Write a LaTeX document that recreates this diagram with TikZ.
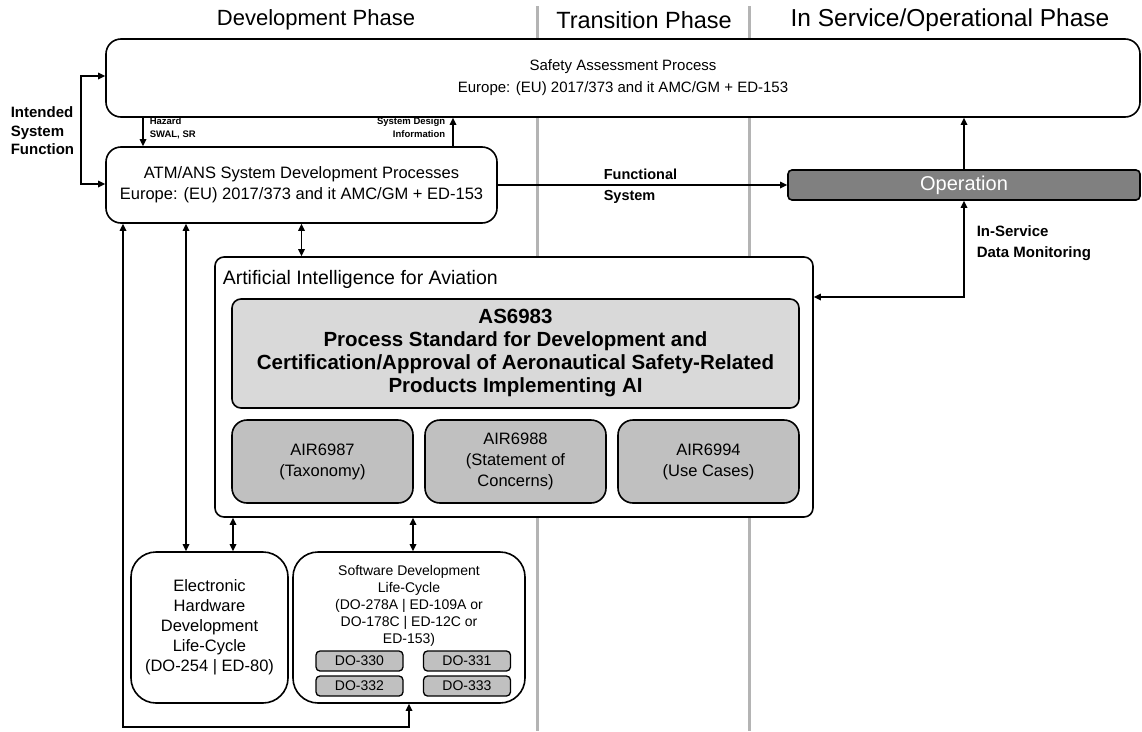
\documentclass[tikz,border=0pt]{standalone}
\usepackage{fontspec}
\setmainfont{Liberation Sans}
\usetikzlibrary{arrows.meta}
\definecolor{phaseline}{HTML}{B4B4B4}
\definecolor{asgray}{HTML}{D9D9D9}
\definecolor{airgray}{HTML}{C0C0C0}
\definecolor{opgray}{HTML}{808080}

\begin{document}
\begin{tikzpicture}
    [x=1pt, y=-1pt, line width=1.6pt, >={Triangle[length=7pt,width=6.5pt]},
     every node/.style={inner sep=0pt, align=center},
     box/.style={draw, fill=white, rounded corners=#1}, box/.default=14pt,
     airbox/.style={box=15pt, fill=airgray, minimum width=181pt, minimum height=83pt, font=\fontsize{16.5}{21}\selectfont},
     dobox/.style={draw, fill=airgray, rounded corners=4pt, line width=1.3pt, minimum width=87pt, minimum height=20pt, font=\fontsize{14}{16}\selectfont},
     phase/.style={font=\fontsize{#1}{28}\selectfont}, phase/.default=23,
     lbl/.style={font=\bfseries\fontsize{14.5}{20.5}\selectfont, align=left},
     tinylbl/.style={font=\bfseries\fontsize{9.5}{12.5}\selectfont}]
  \useasboundingbox (0,0) rectangle (1142,731);

  % phase separators
  \draw[phaseline, line width=3pt] (537,6) -- (537,731);
  \draw[phaseline, line width=3pt] (749,6) -- (749,731);

  \node[phase=22] (devph) at (316,20) {Development Phase};
  \node[phase=23.5] (trph) at (644,20) {Transition Phase};
  \node[phase=24.5] (opph) at (950,20) {In Service/Operational Phase};

  \node[box=15pt, minimum width=1034pt, minimum height=78pt, font=\fontsize{15}{22}\selectfont] (sap) at (623,78)
    {Safety Assessment Process\\Europe: (EU) 2017/373 and it AMC/GM + ED-153};
  \node[box=15pt, minimum width=391pt, minimum height=76pt, font=\fontsize{16.5}{21}\selectfont] (atm) at (301.5,185)
    {ATM/ANS System Development Processes\\Europe: (EU) 2017/373 and it AMC/GM + ED-153};
  \node[draw, fill=opgray, text=white, rounded corners=4pt, minimum width=352pt, minimum height=30pt, font=\fontsize{20}{22}\selectfont] (op) at (964,185) {Operation};

  % AI block
  \node[box=9pt, minimum width=598pt, minimum height=260pt] (ai) at (514,387) {};
  \node[anchor=west, font=\fontsize{19.5}{24}\selectfont] (aititle) at (222,279) {Artificial Intelligence for Aviation};
  \node[box=9pt, fill=asgray, minimum width=567pt, minimum height=109pt, font=\bfseries\fontsize{20.5}{23}\selectfont] (as) at (515.5,353.5)
    {AS6983\\Process Standard for Development and\\Certification/Approval of Aeronautical Safety-Related\\Products Implementing AI};
  \node[airbox] (air1) at (322.5,461.5) {AIR6987\\(Taxonomy)};
  \node[airbox] (air2) at (515.5,461.5) {AIR6988\\(Statement of\\Concerns)};
  \node[airbox] (air3) at (708.5,461.5) {AIR6994\\(Use Cases)};

  % life-cycles
  \node[box=25pt, minimum width=157pt, minimum height=151pt, font=\fontsize{16.5}{20}\selectfont] (eh) at (209.5,627.5)
    {Electronic\\Hardware\\Development\\Life-Cycle\\(DO-254 | ED-80)};
  \node[box=25pt, minimum width=232pt, minimum height=151pt] (sw) at (409,627.5) {};
  \node[font=\fontsize{14}{17}\selectfont] (swtxt) at (409,606)
    {Software Development\\Life-Cycle\\(DO-278A | ED-109A or\\DO-178C | ED-12C or\\ED-153)};
  \node[dobox] (do330) at (359.5,661) {DO-330};
  \node[dobox] (do331) at (467,661) {DO-331};
  \node[dobox] (do332) at (359.5,686) {DO-332};
  \node[dobox] (do333) at (467,686) {DO-333};

  % labels
  \node[lbl, anchor=west, font=\bfseries\fontsize{15}{18.5}\selectfont] (isflbl) at (10,131) {Intended\\System\\Function};
  \node[tinylbl, anchor=north west, align=left] (hazlbl) at (149,117) {Hazard\\SWAL, SR};
  \node[tinylbl, anchor=north east, align=right] (sdlbl) at (446,117) {System Design\\Information};
  \node[lbl, anchor=west] (fslbl) at (603,186) {Functional\\System};
  \node[lbl, anchor=west, font=\bfseries\fontsize{15}{21}\selectfont] (ismlbl) at (976,243) {In-Service\\Data Monitoring};

  \coordinate (isfA) at (81,76);
  \coordinate (isfB) at (81,184);
  \coordinate (xhaz) at (143,0);
  \coordinate (xsd) at (453,0);
  \coordinate (xatmeh) at (186,0);
  \coordinate (xaieh) at (233,0);
  \coordinate (xaisw) at (413,0);
  \coordinate (loopc) at (123,727);
  \coordinate (ism) at (964,297);

  \draw[<->] (isfA -| sap.west) -- (isfA) -- (isfB) -- (isfB -| atm.west);
  \draw[->] (xhaz |- sap.south) -- (xhaz |- atm.north);
  \draw[->] (xsd |- atm.north) -- (xsd |- sap.south);
  \draw[->] (atm.east) -- (op.west);
  \draw[->] (op.north) -- (op.north |- sap.south);
  \draw[<->] (ism -| ai.east) -- (ism) -- (op.south);
  \draw[<->] (atm.south) -- (atm.south |- ai.north);

  \foreach \x/\from/\to in {xatmeh/atm.south/eh.north, xaieh/ai.south/eh.north, xaisw/ai.south/sw.north}
    \draw[<->] (\x |- \from) -- (\x |- \to);

  \draw[<->] (loopc |- atm.south) -- (loopc) -- (loopc -| sw.south) -- (sw.south);
\end{tikzpicture}
\end{document}
